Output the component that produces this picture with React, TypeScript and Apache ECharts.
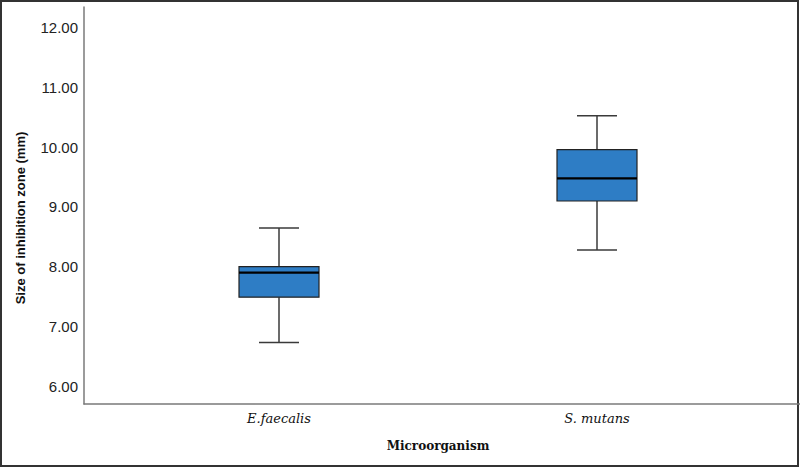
import React, { useEffect, useRef } from "react";
import * as echarts from "echarts";

// Box-plot summary per organism: [min, Q1, median, Q3, max] in mm
const categories = ["E.faecalis", "S. mutans"];
const minValues = [6.73, 8.28];
const q1Values = [7.49, 9.1];
const medianValues = [7.9, 9.48];
const q3Values = [8.0, 9.96];
const maxValues = [8.65, 10.53];
const yTicks = [6, 7, 8, 9, 10, 11, 12];

const Y_MIN = 5.7;
const Y_MAX = 12.35;

export default function App() {
  const ref = useRef<HTMLDivElement>(null);

  useEffect(() => {
    if (!ref.current) return;
    const chart = echarts.init(ref.current, undefined, { renderer: "svg" });

    const boxData = categories.map((_, i) => [
      i,
      minValues[i],
      q1Values[i],
      medianValues[i],
      q3Values[i],
      maxValues[i],
    ]);

    const boxWidth = 80;
    const capWidth = 40;
    const lineColor = "#3a3a3a";

    chart.setOption({
      animation: false,
      backgroundColor: "#ffffff",
      grid: [
        { left: 84, right: 0, top: 7, bottom: 64 },
        { left: 120, right: 44, top: 7, bottom: 64 },
      ],
      xAxis: [
        {
          gridIndex: 0,
          type: "value",
          min: 0,
          max: 1,
          axisLine: { show: true, onZero: false, lineStyle: { color: "#7a7a7a", width: 1.5 } },
          axisTick: { show: false },
          axisLabel: { show: false },
          splitLine: { show: false },
        },
        {
          gridIndex: 1,
          type: "category",
          data: categories,
          axisLine: { show: false },
          axisTick: { show: false },
          axisLabel: {
            margin: 8,
            fontFamily: "DejaVu Serif",
            fontStyle: "italic",
            fontSize: 13,
            color: "#111",
          },
          name: "Microorganism",
          nameLocation: "middle",
          nameGap: 36,
          nameTextStyle: {
            fontFamily: "DejaVu Serif",
            fontWeight: "bold",
            fontSize: 12,
            color: "#111",
          },
        },
      ],
      yAxis: [
        {
          gridIndex: 0,
          type: "value",
          min: Y_MIN,
          max: Y_MAX,
          axisLine: { show: true, lineStyle: { color: "#7a7a7a", width: 1.5 } },
          axisTick: { show: false },
          splitLine: { show: false },
          axisLabel: {
            customValues: yTicks,
            formatter: (v: number) => v.toFixed(2),
            fontFamily: "Liberation Sans",
            fontSize: 15,
            color: "#222",
            margin: 6,
          },
        },
        {
          gridIndex: 1,
          type: "value",
          min: Y_MIN,
          max: Y_MAX,
          show: false,
        },
      ],
      graphic: [
        {
          type: "text",
          x: 20,
          y: 218,
          rotation: Math.PI / 2,
          style: {
            text: "Size of inhibition zone (mm)",
            fontFamily: "Liberation Sans",
            fontWeight: "bold",
            fontSize: 13,
            fill: "#111",
            align: "center",
            verticalAlign: "middle",
          },
        },
        {
          type: "rect",
          shape: { x: 1, y: 1, width: 797, height: 465 },
          style: { fill: "none", stroke: "#333", lineWidth: 2 },
          silent: true,
        },
      ],
      series: [
        {
          type: "custom",
          xAxisIndex: 1,
          yAxisIndex: 1,
          data: boxData,
          encode: { x: 0, y: [1, 2, 3, 4, 5] },
          renderItem: (params: any, api: any) => {
            const idx = api.value(0);
            const pMin = api.coord([idx, api.value(1)]);
            const pQ1 = api.coord([idx, api.value(2)]);
            const pMed = api.coord([idx, api.value(3)]);
            const pQ3 = api.coord([idx, api.value(4)]);
            const pMax = api.coord([idx, api.value(5)]);
            const cx = pMin[0];
            const hb = boxWidth / 2;
            const hc = capWidth / 2;
            const ls = { stroke: lineColor, lineWidth: 1.5 };
            return {
              type: "group",
              children: [
                { type: "line", shape: { x1: cx, y1: pMax[1], x2: cx, y2: pQ3[1] }, style: ls },
                { type: "line", shape: { x1: cx, y1: pQ1[1], x2: cx, y2: pMin[1] }, style: ls },
                { type: "line", shape: { x1: cx - hc, y1: pMax[1], x2: cx + hc, y2: pMax[1] }, style: ls },
                { type: "line", shape: { x1: cx - hc, y1: pMin[1], x2: cx + hc, y2: pMin[1] }, style: ls },
                {
                  type: "rect",
                  shape: { x: cx - hb, y: pQ3[1], width: boxWidth, height: pQ1[1] - pQ3[1] },
                  style: { fill: "#2e7dc5", stroke: "#222", lineWidth: 1.2 },
                },
                {
                  type: "line",
                  shape: { x1: cx - hb, y1: pMed[1], x2: cx + hb, y2: pMed[1] },
                  style: { stroke: "#000", lineWidth: 2.2 },
                },
              ],
            };
          },
        },
      ],
    });

    return () => chart.dispose();
  }, []);

  return (
    <div
      ref={ref}
      style={{ position: "fixed", left: 0, top: 0, width: 800, height: 468 }}
    />
  );
}
